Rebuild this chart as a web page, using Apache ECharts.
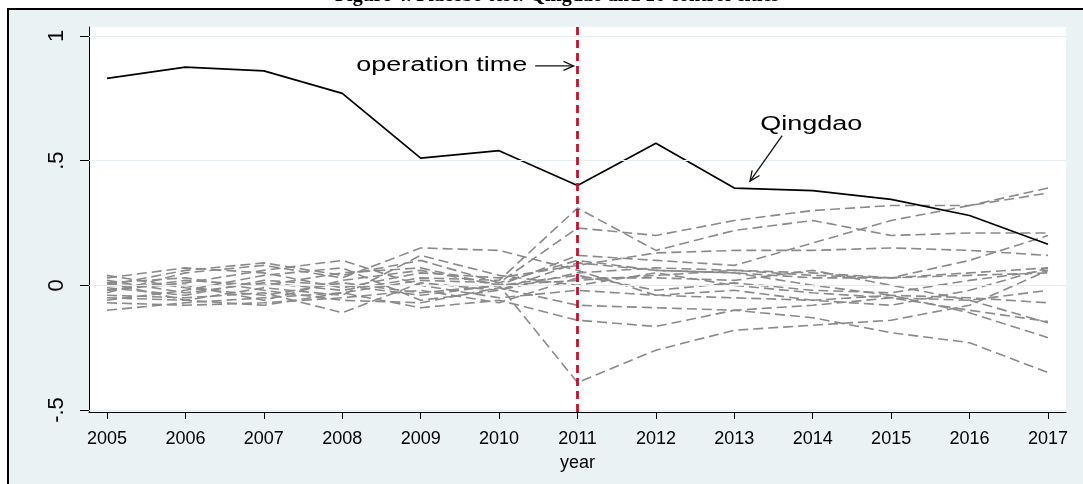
<!DOCTYPE html>
<html>
<head>
<meta charset="utf-8">
<script src="https://cdn.jsdelivr.net/npm/echarts@6/dist/echarts.min.js"></script>
<style>
html,body{margin:0;padding:0;background:#fff;}
#c{width:1083px;height:484px;}
</style>
</head>
<body>
<div id="c"></div>
<script>
// ---- data ----
const years = [2005,2006,2007,2008,2009,2010,2011,2012,2013,2014,2015,2016,2017];
const yTicks = [-0.5, 0, 0.5, 1];
const qingdao = [0.83,0.875,0.86,0.77,0.51,0.54,0.40,0.57,0.39,0.38,0.345,0.28,0.165];
const ctrl01 = [0.02,-0.03,0.01,-0.02,0.03,0.02,0.31,0.14,0.22,0.26,0.20,0.21,0.21];
const ctrl02 = [0.00,0.06,0.09,0.04,0.10,0.01,0.23,0.20,0.26,0.30,0.32,0.32,0.39];
const ctrl03 = [-0.02,0.02,0.00,0.05,0.07,0.00,0.12,0.10,0.08,0.17,0.26,0.32,0.37];
const ctrl04 = [-0.03,0.05,0.08,0.03,0.15,0.14,0.06,-0.04,-0.05,-0.06,-0.04,-0.05,-0.07];
const ctrl05 = [0.04,-0.01,-0.04,0.01,-0.03,0.00,-0.39,-0.26,-0.18,-0.16,-0.14,-0.08,0.06];
const ctrl06 = [-0.10,-0.07,-0.05,-0.03,-0.09,-0.06,-0.14,-0.165,-0.10,-0.13,-0.19,-0.23,-0.35];
const ctrl07 = [-0.05,-0.06,-0.08,-0.03,0.02,0.01,0.10,0.06,0.05,0.00,-0.04,-0.11,-0.21];
const ctrl08 = [0.01,0.03,-0.02,-0.06,-0.07,-0.01,-0.08,-0.09,-0.10,-0.08,-0.05,-0.10,-0.145];
const ctrl09 = [-0.01,-0.04,0.02,0.00,-0.04,0.00,0.02,0.04,0.06,0.05,0.03,0.10,0.20];
const ctrl10 = [0.03,0.07,0.05,-0.01,0.05,0.03,0.08,0.13,0.14,0.14,0.15,0.14,0.12];
const ctrl11 = [-0.04,-0.05,-0.03,-0.11,0.01,-0.02,0.05,0.07,0.06,0.04,0.03,0.05,0.07];
const ctrl12 = [0.00,0.00,-0.06,0.02,0.06,0.00,0.04,-0.02,0.01,-0.02,-0.03,0.02,0.06];
const ctrl13 = [-0.06,-0.02,0.04,0.07,-0.06,-0.02,0.09,0.06,0.05,0.03,0.03,0.04,0.05];
const ctrl14 = [0.01,-0.06,-0.01,-0.04,0.12,0.04,0.00,0.05,0.00,-0.03,-0.05,-0.06,-0.02];
const ctrl15 = [-0.02,0.01,0.06,0.10,0.00,-0.05,-0.02,-0.04,-0.02,-0.06,-0.08,-0.02,0.07];
const ctrl16 = [-0.07,-0.08,-0.07,-0.05,-0.02,-0.07,0.03,0.03,0.02,0.06,0.00,-0.06,-0.15];
const controls = [ctrl01,ctrl02,ctrl03,ctrl04,ctrl05,ctrl06,ctrl07,ctrl08,ctrl09,ctrl10,ctrl11,ctrl12,ctrl13,ctrl14,ctrl15,ctrl16];
const operationYear = 2011;
const titleText = 'Figure 4. Placebo test: Qingdao and 16 control cities';
// annotation anchors (data space)
const opLabel = {text: 'operation time', pos: [2010.36, 0.88]};
const opArrow = [[2010.46, 0.88], [2010.95, 0.88]];
const qdLabel = {text: 'Qingdao', pos: [2013.33, 0.645]};
const qdArrow = [[2013.61, 0.60], [2013.20, 0.418]];

const FONT = 'Liberation Sans, Arial, sans-serif';
const chart = echarts.init(document.getElementById('c'), null, {renderer: 'canvas'});

function pairs(arr){ return arr.map((v,i)=>[years[i], v]); }

function arrowShapes(api, a){
  const p0 = api.coord(a[0]), p1 = api.coord(a[1]);
  const ang = Math.atan2(p1[1]-p0[1], p1[0]-p0[0]);
  const L = 11, w = 0.42;
  const h1 = [p1[0]-L*Math.cos(ang-w), p1[1]-L*Math.sin(ang-w)];
  const h2 = [p1[0]-L*Math.cos(ang+w), p1[1]-L*Math.sin(ang+w)];
  const st = {stroke:'#111', lineWidth:1.3, fill:null};
  return [
    {type:'polyline', shape:{points:[p0,p1]}, style:st},
    {type:'polyline', shape:{points:[h1,p1,h2]}, style:st}
  ];
}

const series = controls.map((c, i) => ({
  type: 'line', name: 'c'+(i+1), data: pairs(c), symbol: 'none', silent: true,
  lineStyle: {color: '#8a8a8a', width: 1.6, type: [10, 5]}, z: 2
}));
series.push({
  type: 'line', name: 'Qingdao', data: pairs(qingdao), symbol: 'none', silent: true,
  lineStyle: {color: '#000', width: 1.7}, z: 4
});
series.push({
  type: 'line', name: 'grid', data: [], silent: true, z: 1,
  markLine: {silent: true, symbol: 'none', label: {show: false},
    lineStyle: {color: '#e6eef1', width: 1.2, type: 'solid'},
    data: yTicks.map(v => ({yAxis: v}))}
});
series.push({
  type: 'line', name: 'op', data: [], silent: true, z: 6,
  markLine: {silent: true, symbol: 'none', label: {show: false}, z: 6,
    lineStyle: {color: '#c8102e', width: 2.8, type: [8, 5]},
    data: [{xAxis: operationYear}]}
});
series.push({
  type: 'custom', name: 'ann', coordinateSystem: 'cartesian2d', silent: true, z: 7,
  clip: false, data: [[years[0], 0]],
  renderItem: function(params, api){
    const lp = api.coord(opLabel.pos);
    const qp = api.coord(qdLabel.pos);
    const children = [
      {type:'text', x: lp[0], y: lp[1], scaleX: 1.35, style:{text: opLabel.text, x: 0, y: 0, align:'right', verticalAlign:'middle', font: '20px ' + FONT, fill:'#000'}},
      {type:'text', x: qp[0], y: qp[1], scaleX: 1.35, style:{text: qdLabel.text, x: 0, y: 0, align:'left', verticalAlign:'middle', font: '20px ' + FONT, fill:'#000'}}
    ].concat(arrowShapes(api, opArrow), arrowShapes(api, qdArrow));
    return {type:'group', children: children};
  }
});

chart.setOption({
  animation: false,
  backgroundColor: '#ffffff',
  graphic: [
    {type:'rect', shape:{x:8, y:9, width:1100, height:500}, style:{fill:'#eaf2f3', stroke:'#000', lineWidth:2}, z:-10, silent:true},
    {type:'text', style:{text: titleText, x: 557, y: 6, align:'center', verticalAlign:'bottom', font:'bold 20px Liberation Serif, Times New Roman, serif', fill:'#000'}, z: 10}
  ],
  grid: {left: 89, right: 17, top: 27, bottom: 72, show: true, backgroundColor: '#ffffff', borderWidth: 0, containLabel: false},
  xAxis: {
    type: 'value', min: 2004.77, max: 2017.23,
    name: 'year', nameLocation: 'middle', nameGap: 42,
    nameTextStyle: {fontFamily: FONT, fontSize: 18, color: '#000'},
    axisLine: {show: true, onZero: false, lineStyle: {color: '#000', width: 1}},
    axisTick: {show: true, length: 7, lineStyle: {color: '#000'}, customValues: years},
    axisLabel: {customValues: years, fontFamily: FONT, fontSize: 18, color: '#000', margin: 18, formatter: v => String(v)},
    splitLine: {show: false}
  },
  yAxis: {
    type: 'value', min: -0.508, max: 1.036,
    axisLine: {show: true, onZero: false, lineStyle: {color: '#000', width: 1}},
    axisTick: {show: true, length: 9, lineStyle: {color: '#000'}, customValues: yTicks},
    axisLabel: {customValues: yTicks, rotate: 90, fontFamily: FONT, fontSize: 22, color: '#000', margin: 21,
      formatter: v => { if (Math.abs(v) < 1e-9) return '0'; if (Math.abs(v - Math.round(v)) < 1e-9) return String(Math.round(v)); return (v < 0 ? '-' : '') + String(Math.abs(v)).replace(/^0/, ''); }},
    splitLine: {show: false}
  },
  series: series
});
</script>
</body>
</html>
